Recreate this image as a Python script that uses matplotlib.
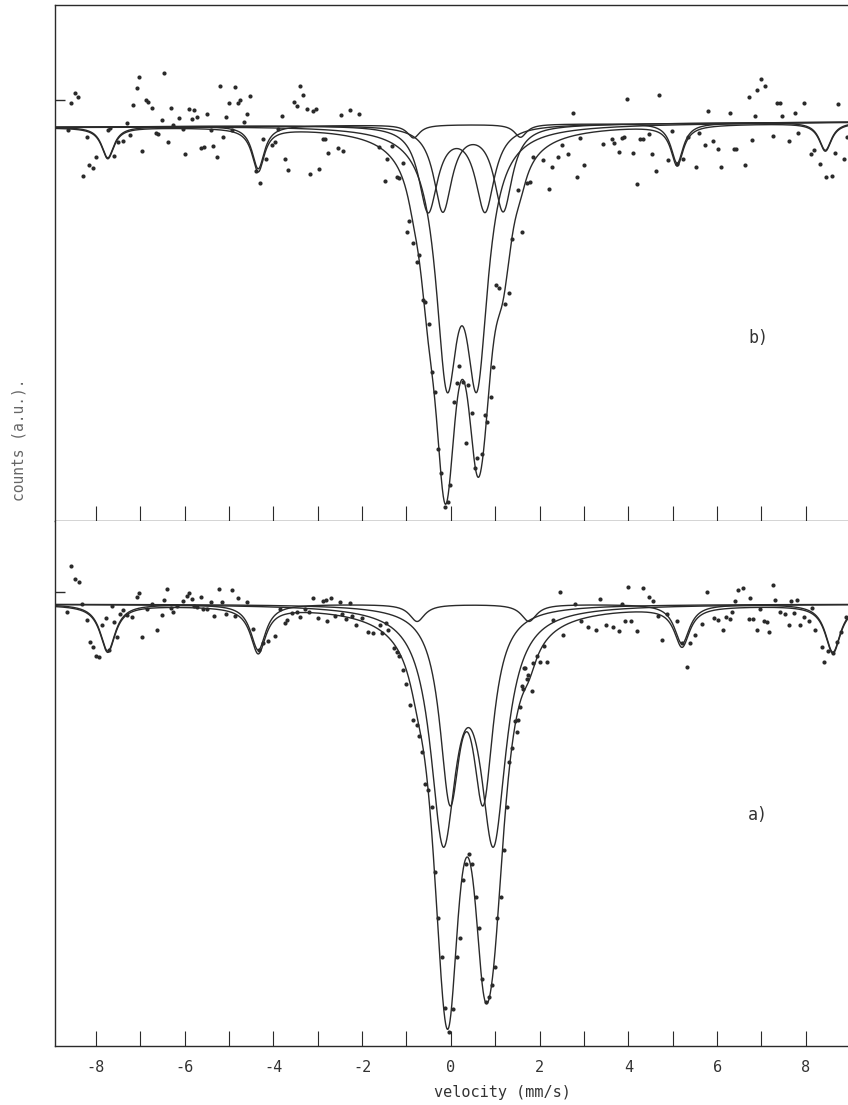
import numpy as np
import matplotlib.pyplot as plt

# --- spectrum b) (upper panel): measured points, velocity (mm/s) and counts (a.u., baseline ~1000)
vel_b = [-8.63, -8.55, -8.47, -8.40, -8.28, -8.21, -8.15, -8.07, -7.99, -7.72, -7.67, -7.59, -7.49,
         -7.38, -7.29, -7.23, -7.16, -7.08, -7.02, -6.95, -6.87, -6.82, -6.74, -6.65, -6.59, -6.52,
         -6.46, -6.38, -6.31, -6.26, -6.12, -6.04, -5.98, -5.90, -5.84, -5.79, -5.73, -5.63, -5.56,
         -5.50, -5.41, -5.35, -5.28, -5.20, -5.14, -5.07, -5.00, -4.93, -4.86, -4.79, -4.74, -4.66,
         -4.59, -4.53, -4.38, -4.30, -4.24, -4.17, -4.04, -3.96, -3.89, -3.81, -3.74, -3.66, -3.53,
         -3.47, -3.40, -3.33, -3.25, -3.17, -3.11, -3.04, -2.98, -2.87, -2.83, -2.76, -2.55, -2.48,
         -2.42, -2.27, -2.06, -1.63, -1.48, -1.43, -1.33, -1.22, -1.16, -1.07, -0.99, -0.94, -0.85,
         -0.77, -0.71, -0.63, -0.58, -0.49, -0.43, -0.36, -0.28, -0.22, -0.13, -0.07, -0.02, 0.07,
         0.13, 0.19, 0.28, 0.34, 0.39, 0.48, 0.55, 0.60, 0.70, 0.76, 0.82, 0.90, 0.96, 1.02, 1.09,
         1.22, 1.31, 1.37, 1.52, 1.60, 1.71, 1.79, 1.86, 2.07, 2.21, 2.27, 2.42, 2.50, 2.63, 2.76,
         2.85, 2.91, 2.99, 3.42, 3.63, 3.68, 3.78, 3.85, 3.90, 3.98, 4.11, 4.19, 4.27, 4.34, 4.46,
         4.54, 4.62, 4.68, 4.89, 4.99, 5.09, 5.24, 5.35, 5.52, 5.60, 5.73, 5.80, 5.90, 6.01, 6.08,
         6.28, 6.37, 6.43, 6.63, 6.71, 6.78, 6.86, 6.91, 6.99, 7.08, 7.27, 7.35, 7.41, 7.47, 7.61,
         7.76, 7.82, 7.95, 8.11, 8.19, 8.31, 8.45, 8.59, 8.65, 8.72, 8.87, 8.92]
cnt_b = [995, 1022, 1032, 1028, 949, 988, 960, 957, 968, 995, 997, 969, 983,
         984, 1002, 990, 1020, 1037, 1048, 974, 1025, 1023, 1017, 992, 991, 1005,
         1052, 983, 1017, 1000, 1007, 996, 971, 1016, 1006, 1015, 1008, 977, 978,
         1011, 995, 979, 968, 1039, 988, 1008, 1022, 995, 1038, 1022, 1025, 1003,
         1011, 1029, 954, 942, 986, 966, 980, 983, 996, 1009, 966, 955, 1023,
         1019, 1039, 1030, 1016, 951, 1014, 1016, 956, 986, 986, 972, 977, 1010,
         974, 1015, 1011, 978, 944, 966, 979, 948, 947, 962, 893, 904, 882,
         863, 870, 825, 823, 801, 753, 733, 676, 652, 618, 623, 640, 723,
         742, 759, 743, 682, 740, 712, 657, 667, 671, 710, 703, 728, 758, 840, 837,
         821, 832, 886, 935, 893, 942, 943, 968, 965, 936, 958, 968, 980, 971, 1012,
         948, 987, 960, 981, 986, 982, 973, 987, 988, 1026, 972, 941, 986, 986, 991,
         971, 954, 1030, 965, 994, 961, 966, 988, 958, 992, 980, 1014, 984, 976, 958,
         1012, 976, 976, 960, 1028, 985, 1009, 1035, 1046, 1039, 989, 1022, 1022, 1009, 984,
         1012, 992, 1022, 971, 975, 961, 948, 949, 972, 1021, 966, 988]

# --- spectrum a) (lower panel)
vel_a = [-8.64, -8.57, -8.47, -8.37, -8.32, -8.21, -8.13, -8.07, -7.99, -7.92, -7.87, -7.78, -7.70,
         -7.64, -7.59, -7.52, -7.46, -7.38, -7.29, -7.19, -7.08, -7.02, -6.95, -6.84, -6.74, -6.62,
         -6.52, -6.47, -6.39, -6.31, -6.26, -6.17, -6.03, -5.95, -5.90, -5.84, -5.79, -5.73, -5.63,
         -5.58, -5.50, -5.41, -5.34, -5.22, -5.15, -5.07, -4.94, -4.86, -4.79, -4.60, -4.45, -4.32,
         -4.23, -4.11, -3.96, -3.85, -3.74, -3.70, -3.59, -3.47, -3.40, -3.29, -3.19, -3.11, -2.99,
         -2.89, -2.81, -2.78, -2.71, -2.61, -2.50, -2.46, -2.36, -2.27, -2.23, -2.14, -2.01, -1.86,
         -1.75, -1.60, -1.56, -1.45, -1.41, -1.28, -1.21, -1.16, -1.08, -1.01, -0.93, -0.86, -0.77,
         -0.71, -0.66, -0.58, -0.51, -0.43, -0.36, -0.28, -0.21, -0.13, -0.05, 0.06, 0.15, 0.21,
         0.28, 0.34, 0.40, 0.47, 0.57, 0.64, 0.70, 0.79, 0.87, 0.92, 1.00, 1.05, 1.12, 1.20, 1.26,
         1.30, 1.37, 1.45, 1.49, 1.52, 1.56, 1.60, 1.63, 1.65, 1.67, 1.71, 1.75, 1.82, 1.86, 1.94,
         2.01, 2.10, 2.16, 2.31, 2.45, 2.52, 2.80, 2.93, 3.08, 3.27, 3.36, 3.50, 3.66, 3.78, 3.85,
         3.93, 4.00, 4.06, 4.19, 4.34, 4.47, 4.55, 4.66, 4.75, 4.87, 5.09, 5.21, 5.32, 5.38, 5.50,
         5.66, 5.78, 5.92, 6.03, 6.13, 6.20, 6.29, 6.33, 6.41, 6.48, 6.58, 6.71, 6.75, 6.82, 6.91,
         6.96, 7.05, 7.12, 7.18, 7.25, 7.31, 7.42, 7.53, 7.61, 7.66, 7.74, 7.80, 7.87, 7.95, 8.06,
         8.14, 8.21, 8.36, 8.42, 8.51, 8.62, 8.70, 8.79, 8.91]
cnt_a = [993, 1036, 1024, 1021, 1000, 985, 964, 960, 951, 950, 980, 987, 957,
         998, 983, 969, 991, 994, 990, 988, 1007, 1010, 969, 995, 1000, 976,
         990, 1004, 1014, 996, 993, 998, 1003, 1008, 1010, 1005, 998, 997, 1007,
         995, 995, 1002, 989, 1014, 1002, 991, 1013, 989, 1006, 1002, 977, 957,
         963, 965, 970, 995, 982, 985, 992, 993, 988, 995, 993, 1006, 987,
         1003, 1004, 984, 1006, 989, 1002, 991, 986, 1001, 989, 980, 987, 974,
         973, 980, 973, 982, 976, 959, 955, 951, 938, 925, 905, 891, 886,
         876, 861, 831, 825, 809, 748, 705, 669, 621, 598, 620, 669, 686,
         741, 756, 765, 756, 725, 696, 648, 626, 631, 642, 659, 705, 725, 769, 809,
         852, 865, 890, 880, 891, 903, 923, 920, 940, 940, 930, 933, 918, 945, 951,
         946, 961, 946, 985, 1011, 971, 1000, 984, 978, 976, 1005, 980, 978, 975, 1000,
         984, 1016, 984, 975, 1015, 1007, 1003, 989, 966, 991, 984, 963, 941, 963, 971,
         981, 1011, 987, 985, 976, 988, 986, 993, 1003, 1013, 1015, 986, 1006, 986, 976,
         995, 984, 983, 974, 1018, 1004, 993, 991, 980, 1003, 992, 1004, 980, 988, 984,
         996, 976, 960, 946, 956, 954, 964, 974, 988]

# --- fitted subspectra: Lorentzian lines (position mm/s, depth a.u., half width mm/s)
sext_b_pos = [-7.73, -4.34, -0.84, 1.57, 5.10, 8.44]
sext_b_depth = [31, 43, 13, 13, 40, 28]
sext_b_hwhm = 0.17
dbl_b_pos = [(-0.09, 0.59), (-0.51, 0.77), (-0.18, 1.18)]
dbl_b_depth = [230, 85, 85]
dbl_b_hwhm = [0.30, 0.26, 0.25]
base_b = (998, 1003)

sext_a_pos = [-7.73, -4.34, -0.76, 1.76, 5.21, 8.61]
sext_a_depth = [44, 43, 16, 16, 37, 45]
sext_a_hwhm = 0.21
dbl_a_pos = [(-0.02, 0.73), (-0.17, 0.96)]
dbl_a_depth = [169, 210]
dbl_a_hwhm = [0.278, 0.349]
base_a = (1000, 1000)

xticks = list(range(-8, 9))
xticklabels = [str(t) if t % 2 == 0 else '' for t in xticks]

ink = '#2a2a2a'
xmin, xmax = -8.92, 8.95


def lor(v, c, a, w):
    return a / (1 + ((v - c) / w) ** 2)


def draw_panel(ax, vel, cnt, sp, sd, sw, dp, dd, dw, base):
    v = np.linspace(xmin, xmax, 4000)
    b = np.interp(v, [xmin, xmax], base)
    sext = sum(lor(v, c, a, sw) for c, a in zip(sp, sd))
    total = sext.copy()
    ax.plot(v, b - sext, color=ink, lw=1.0)
    for pos, a, w in zip(dp, dd, dw):
        comp = lor(v, pos[0], a, w) + lor(v, pos[1], a, w)
        total += comp
        ax.plot(v, b - comp, color=ink, lw=1.0)
    ax.plot(v, b - total, color=ink, lw=1.0)
    ax.plot(vel, cnt, 'o', color=ink, ms=3.0, mec='none')
    ax.set_xlim(xmin, xmax)
    ax.set_xticks(xticks)
    ax.tick_params(axis='x', direction='in', length=11, width=0.8, color=ink)
    ax.tick_params(axis='y', direction='in', length=7, width=1.0, color=ink)
    for s in ax.spines.values():
        s.set_color(ink)
        s.set_linewidth(1.0)
    ax.spines['right'].set_visible(False)


fig = plt.figure(figsize=(8.48, 11.05), dpi=100)
W, H = 848, 1105
x0, ymid, ybot, ytop = 55, 521, 1046, 5

ax_b = fig.add_axes([x0 / W, 1 - ymid / H, (W - x0) / W, (ymid - ytop) / H])
ax_a = fig.add_axes([x0 / W, 1 - ybot / H, (W - x0) / W, (ybot - ymid) / H])

draw_panel(ax_b, vel_b, cnt_b, sext_b_pos, sext_b_depth, sext_b_hwhm,
           dbl_b_pos, dbl_b_depth, dbl_b_hwhm, base_b)
draw_panel(ax_a, vel_a, cnt_a, sext_a_pos, sext_a_depth, sext_a_hwhm,
           dbl_a_pos, dbl_a_depth, dbl_a_hwhm, base_a)

ax_b.set_ylim(604, 1120)
ax_a.set_ylim(585, 1078)
ax_b.set_yticks([1025])
ax_a.set_yticks([1011])
ax_b.set_yticklabels([])
ax_a.set_yticklabels([])
ax_b.set_xticklabels([])
ax_a.spines['top'].set_visible(False)
ax_a.set_xticklabels(xticklabels, family='DejaVu Sans Mono', fontsize=11, color='#333')
ax_a.tick_params(axis='x', pad=10)

ax_b.text(0.874, 0.355, 'b)', transform=ax_b.transAxes, family='DejaVu Sans Mono',
          fontsize=12, color='#333', va='center')
ax_a.text(0.874, 0.44, 'a)', transform=ax_a.transAxes, family='DejaVu Sans Mono',
          fontsize=12, color='#333', va='center')

fig.text(502 / W, 1 - 1092 / H, 'velocity (mm/s)', family='DejaVu Sans Mono', fontsize=11,
         color='#333', ha='center', va='center')
fig.text(19 / W, 1 - 440 / H, 'counts (a.u.).', family='DejaVu Sans Mono', fontsize=10.5,
         color='#666', ha='center', va='center', rotation=90)

fig.savefig('out.png', dpi=100)
